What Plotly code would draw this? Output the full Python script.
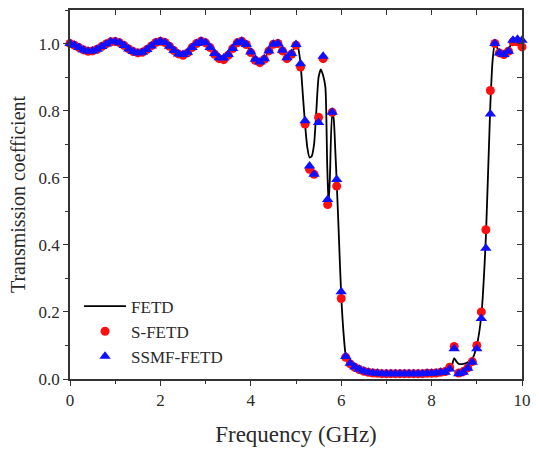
import plotly.graph_objects as go

# ---- data ----
freq_line = [0.0, 0.1, 0.2, 0.3, 0.4, 0.5, 0.6, 0.7, 0.8, 0.9,
             1.0, 1.1, 1.2, 1.3, 1.4, 1.5, 1.6, 1.7, 1.8, 1.9,
             2.0, 2.1, 2.2, 2.3, 2.4, 2.5, 2.6, 2.7, 2.8, 2.9,
             3.0, 3.1, 3.2, 3.3, 3.4, 3.5, 3.6, 3.7, 3.8, 3.9,
             4.0, 4.1, 4.2, 4.3, 4.4, 4.5, 4.6, 4.7, 4.8, 4.9,
             5.0, 5.05, 5.1, 5.15, 5.2, 5.25, 5.3, 5.35, 5.4, 5.45,
             5.5, 5.55, 5.6, 5.65, 5.69, 5.72, 5.75, 5.8, 5.83, 5.87,
             5.9, 5.95, 6.0, 6.05, 6.1, 6.15, 6.2, 6.3, 6.5, 6.8,
             7.2, 7.6, 8.0, 8.3, 8.4, 8.45, 8.5, 8.55, 8.6, 8.7,
             8.8, 8.9, 9.0, 9.1, 9.2, 9.3, 9.35, 9.4, 9.5, 9.6,
             9.7, 9.8, 9.9, 10.0]
fetd = [1.000, 0.995, 0.988, 0.981, 0.977, 0.978, 0.983, 0.991, 0.999, 1.005,
        1.006, 1.002, 0.994, 0.984, 0.976, 0.972, 0.974, 0.982, 0.993, 1.003,
        1.007, 1.003, 0.992, 0.979, 0.969, 0.967, 0.974, 0.988, 1.000, 1.007,
        1.002, 0.988, 0.970, 0.958, 0.955, 0.967, 0.985, 1.002, 1.007, 0.997,
        0.975, 0.953, 0.945, 0.955, 0.978, 0.998, 1.000, 0.980, 0.958, 0.970,
        0.997, 0.985, 0.940, 0.850, 0.760, 0.690, 0.660, 0.665, 0.700, 0.800,
        0.900, 0.923, 0.905, 0.870, 0.640, 0.520, 0.600, 0.790, 0.780, 0.680,
        0.590, 0.420, 0.250, 0.140, 0.070, 0.050, 0.040, 0.030, 0.020, 0.017,
        0.016, 0.016, 0.016, 0.018, 0.025, 0.040, 0.062, 0.052, 0.045, 0.045,
        0.050, 0.060, 0.100, 0.190, 0.420, 0.820, 0.950, 1.000, 0.975, 0.970,
        0.980, 1.010, 1.012, 1.000]

freq_pts = [round(i * 0.1, 1) for i in range(101)]
s_fetd = [1.000, 0.995, 0.988, 0.981, 0.977, 0.978, 0.983, 0.991, 0.999, 1.005,
          1.006, 1.002, 0.994, 0.984, 0.976, 0.972, 0.974, 0.982, 0.993, 1.003,
          1.007, 1.003, 0.992, 0.979, 0.969, 0.965, 0.972, 0.988, 1.000, 1.007,
          1.002, 0.988, 0.968, 0.955, 0.952, 0.965, 0.985, 1.002, 1.007, 0.997,
          0.973, 0.950, 0.943, 0.953, 0.978, 0.998, 1.000, 0.978, 0.955, 0.968,
          0.995, 0.930, 0.760, 0.625, 0.610, 0.780, 0.955, 0.520, 0.795, 0.575,
          0.240, 0.065, 0.045, 0.035, 0.028, 0.023, 0.020, 0.018, 0.017, 0.016,
          0.016, 0.016, 0.016, 0.016, 0.016, 0.016, 0.016, 0.016, 0.016, 0.017,
          0.017, 0.018, 0.020, 0.022, 0.035, 0.097, 0.018, 0.022, 0.033, 0.052,
          0.100, 0.200, 0.445, 0.860, 1.000, 0.972, 0.967, 0.977, 1.005, 1.005,
          0.990]
ssmf_fetd = [1.000, 0.995, 0.988, 0.981, 0.977, 0.978, 0.983, 0.991, 0.999, 1.005,
             1.006, 1.002, 0.994, 0.984, 0.976, 0.972, 0.974, 0.982, 0.993, 1.003,
             1.007, 1.003, 0.992, 0.979, 0.969, 0.967, 0.974, 0.988, 1.000, 1.007,
             1.002, 0.988, 0.970, 0.958, 0.957, 0.967, 0.985, 1.002, 1.007, 0.997,
             0.975, 0.953, 0.945, 0.955, 0.978, 0.998, 1.000, 0.980, 0.958, 0.970,
             0.997, 0.940, 0.770, 0.635, 0.610, 0.765, 0.962, 0.535, 0.795, 0.595,
             0.260, 0.067, 0.047, 0.036, 0.029, 0.024, 0.020, 0.018, 0.017, 0.016,
             0.016, 0.016, 0.016, 0.016, 0.016, 0.016, 0.016, 0.016, 0.016, 0.017,
             0.017, 0.018, 0.020, 0.020, 0.030, 0.090, 0.016, 0.020, 0.032, 0.050,
             0.090, 0.180, 0.390, 0.790, 1.000, 0.972, 0.967, 0.977, 1.010, 1.013,
             1.010]

x_tick_vals = [0, 2, 4, 6, 8, 10]
y_tick_vals = [0.0, 0.2, 0.4, 0.6, 0.8, 1.0]
y_tick_text = ["0.0", "0.2", "0.4", "0.6", "0.8", "1.0"]

FONT = "Liberation Serif"
TXT = "#2a2a2a"

fig = go.Figure()
fig.add_trace(go.Scatter(x=freq_line, y=fetd, mode="lines", name="FETD",
                         line=dict(color="black", width=1.8, shape="spline", smoothing=0.6),
                         cliponaxis=False))
fig.add_trace(go.Scatter(x=freq_pts, y=s_fetd, mode="markers", name="S-FETD",
                         marker=dict(color="#ff1010", size=9, symbol="circle"),
                         cliponaxis=False))
fig.add_trace(go.Scatter(x=freq_pts, y=ssmf_fetd, mode="markers", name="SSMF-FETD",
                         marker=dict(color="#1010ff", size=10, symbol="triangle-up"),
                         cliponaxis=False))
# helper (empty) trace for the top/right inward-tick axes
fig.add_trace(go.Scatter(x=[None], y=[None], xaxis="x2", yaxis="y2",
                         showlegend=False, hoverinfo="skip"))

axis_common = dict(showgrid=False, zeroline=False, showline=True,
                   linecolor="#333", linewidth=1.5, tickcolor="#333",
                   tickfont=dict(family=FONT, size=17, color=TXT))

fig.update_layout(
    width=539, height=451,
    margin=dict(l=70, r=8, t=8, b=72),
    paper_bgcolor="white", plot_bgcolor="white",
    font=dict(family=FONT, color=TXT),
    xaxis=dict(range=[0, 10], tickvals=x_tick_vals, ticks="outside", ticklen=5,
               tickwidth=1.3, mirror=True,
               minor=dict(dtick=1, tick0=0, ticks="outside", ticklen=3, tickcolor="#333"),
               title=dict(text="Frequency (GHz)", font=dict(family=FONT, size=23, color=TXT),
                          standoff=17),
               **axis_common),
    yaxis=dict(range=[0, 1.1], tickvals=y_tick_vals, ticktext=y_tick_text,
               ticks="outside", ticklen=5, tickwidth=1.3, mirror=True,
               minor=dict(dtick=0.1, tick0=0, ticks="outside", ticklen=3, tickcolor="#333"),
               title=dict(text="Transmission coefficient",
                          font=dict(family=FONT, size=20, color=TXT), standoff=8),
               **axis_common),
    xaxis2=dict(range=[0, 10], overlaying="x", side="top", showticklabels=False,
                ticks="inside", ticklen=5, tickcolor="#333", dtick=1, tick0=0,
                showgrid=False, zeroline=False, showline=False),
    yaxis2=dict(range=[0, 1.1], overlaying="y", side="right", showticklabels=False,
                ticks="inside", ticklen=5, tickcolor="#333", dtick=0.1, tick0=0,
                showgrid=False, zeroline=False, showline=False),
    legend=dict(x=0.02, y=0.245, xanchor="left", yanchor="top",
                bgcolor="rgba(0,0,0,0)", borderwidth=0,
                font=dict(family=FONT, size=17, color=TXT),
                itemwidth=42, tracegroupgap=0),
    showlegend=True,
)

fig.write_html("out.html")
